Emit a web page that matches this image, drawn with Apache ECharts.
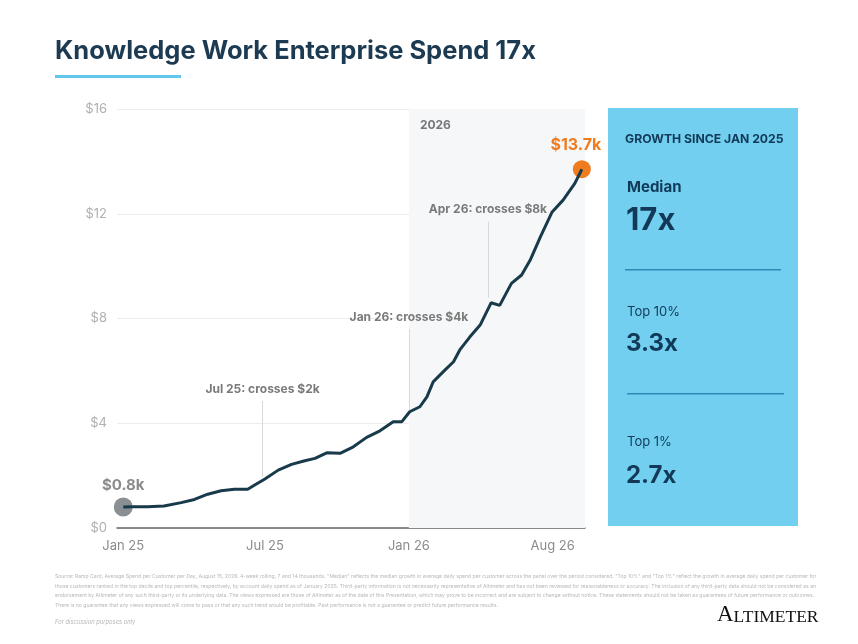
<!DOCTYPE html>
<html>
<head>
<meta charset="utf-8">
<script src="https://cdn.jsdelivr.net/npm/echarts@6/dist/echarts.min.js"></script>
<style>
  html, body { margin: 0; padding: 0; background: #fff; }
  #main { width: 858px; height: 644px; }
</style>
</head>
<body>
<div id="main"></div>
<script>
// median enterprise spend, $k
var dates = ['2025-01-01','2025-01-13','2025-02-01','2025-02-22','2025-03-16','2025-04-02','2025-04-19',
  '2025-05-06','2025-05-23','2025-06-09','2025-06-18','2025-07-01','2025-07-18','2025-08-04','2025-08-21',
  '2025-09-03','2025-09-18','2025-10-05','2025-10-22','2025-11-08','2025-11-25','2025-12-12','2025-12-23',
  '2026-01-02','2026-01-15','2026-01-24','2026-02-01','2026-02-14','2026-02-27','2026-03-07','2026-03-20',
  '2026-04-02','2026-04-16','2026-04-27','2026-05-12','2026-05-25','2026-06-05','2026-06-18','2026-07-03',
  '2026-07-17','2026-08-01','2026-08-10'];
var spend = [0.8,0.81,0.81,0.84,0.97,1.09,1.29,
  1.42,1.48,1.48,1.64,1.87,2.21,2.43,2.57,
  2.66,2.87,2.85,3.10,3.46,3.71,4.06,4.06,
  4.44,4.63,5.01,5.58,5.97,6.35,6.8,7.3,
  7.75,8.6,8.5,9.34,9.66,10.23,11.12,12.07,
  12.52,13.16,13.7];

var tickDates = ['2025-01-01','2025-07-01','2026-01-01','2026-08-01'];
var tickLabels = ['Jan 25','Jul 25','Jan 26','Aug 26'];

var annDates = ['2025-06-28','2026-01-01','2026-04-12'];
var annLow = [1.96,4.5,8.8];
var annHigh = [4.85,7.6,11.7];
var annText = ['Jul 25: crosses $2k','Jan 26: crosses $4k','Apr 26: crosses $8k'];

var panelLabels = ['Median','Top 10%','Top 1%'];
var panelValues = ['17x','3.3x','2.7x'];

var t0 = Date.parse('2025-01-01');
function dayOf(d){ return Math.round((Date.parse(d) - t0) / 864e5); }

var points = dates.map(function(d, i){ return [dayOf(d), spend[i]]; });
var last = points[points.length - 1];

var annLines = annDates.map(function(d, i){
  return [
    {coord: [dayOf(d), annLow[i]], label: {formatter: annText[i]}},
    {coord: [dayOf(d), annHigh[i]]}
  ];
});

var navy = '#123a58';
var font = 'Inter, "Open Sans", sans-serif';

var graphics = [
  {type:'text', left:55, top:38, style:{text:'Knowledge Work Enterprise Spend 17x', fill:'#1c3b52',
    font:'bold 25.5px ' + font}},
  {type:'rect', shape:{x:55, y:75, width:126, height:3}, style:{fill:'#62c7ec'}},
  {type:'rect', shape:{x:608, y:108, width:190, height:418}, style:{fill:'#72cff0'}},
  {type:'text', left:625, top:133, style:{text:'GROWTH SINCE JAN 2025', fill:navy, font:'bold 12.2px ' + font}},
  {type:'rect', shape:{x:625, y:269, width:156, height:1.5}, style:{fill:'#2f8ab8'}},
  {type:'rect', shape:{x:627, y:393, width:157, height:1.5}, style:{fill:'#2f8ab8'}},
  {type:'text', left:55, top:572, style:{
    text:'Source: Ramp Card, Average Spend per Customer per Day, August 15, 2026. 4-week rolling, 7 and 14 thousands. "Median" reflects the median growth in average daily spend per customer across the panel over the period considered. "Top 10%" and "Top 1%" reflect the growth in average daily spend per customer for those customers ranked in the top decile and top percentile, respectively, by account daily spend as of January 2025. Third-party information is not necessarily representative of Altimeter and has not been reviewed for reasonableness or accuracy. The inclusion of any third-party data should not be considered as an endorsement by Altimeter of any such third-party or its underlying data. The views expressed are those of Altimeter as of the date of this Presentation, which may prove to be incorrect and are subject to change without notice. These statements should not be taken as guarantees of future performance or outcomes. There is no guarantee that any views expressed will come to pass or that any such trend would be profitable. Past performance is not a guarantee or predict future performance results.',
    width:775, overflow:'break', fill:'#b8b8b8', font:'5.1px ' + font, lineHeight:9.5}},
  {type:'text', left:55, top:619, style:{text:'For discussion purposes only', fill:'#b8b8b8', font:'italic 5.8px ' + font}},
  {type:'text', left:717, top:603, style:{
    text:'{a|A}{b|LTIMETER}', fill:'#111',
    rich:{a:{fontSize:23, fontFamily:'"Liberation Serif", serif', fill:'#111'},
          b:{fontSize:17.5, fontFamily:'"Liberation Serif", serif', fill:'#111', verticalAlign:'bottom'}}}}
];
var py = [189, 315, 445];
var vy = [222, 346, 478];
panelLabels.forEach(function(l, i){
  graphics.push({type:'text', left:627, top:py[i] - 9, style:{text:l, fill:navy,
    font:(i === 0 ? 'bold 15px ' : '13px ') + font}});
  graphics.push({type:'text', left:626, top:vy[i] - (i === 0 ? 17 : 14), style:{text:panelValues[i], fill:navy,
    font:(i === 0 ? 'bold 31px ' : 'bold 24px ') + font}});
});

var chart = echarts.init(document.getElementById('main'));
chart.setOption({
  backgroundColor: '#fff',
  animation: false,
  grid: {left:117, right:273, top:109, bottom:116},
  xAxis: {
    type: 'value', min: -8, max: 590,
    splitLine: {show: false},
    axisTick: {show: false},
    axisLine: {lineStyle: {color: '#666', width: 1.5}},
    axisLabel: {
      customValues: tickDates.map(dayOf),
      formatter: function(v){ return tickLabels[tickDates.map(dayOf).indexOf(v)] || ''; },
      color: '#8c8c8c', fontSize: 13, fontFamily: font, margin: 12,
      alignMaxLabel: 'right'
    }
  },
  yAxis: {
    type: 'value', min: 0, max: 16, interval: 4,
    axisLine: {show: false}, axisTick: {show: false},
    splitLine: {lineStyle: {color: '#ececec', width: 1}},
    axisLabel: {formatter: function(v){ return '$' + v; }, color: '#b0b0b0', fontSize: 13,
      fontFamily: font, margin: 10}
  },
  series: [{
    type: 'line',
    data: points,
    showSymbol: false,
    lineStyle: {color: '#183a4a', width: 3},
    z: 5,
    markArea: {
      silent: true,
      itemStyle: {color: '#f5f7f9'},
      label: {show: true, position: 'insideTopLeft', offset: [6, 5], color: '#777',
        fontWeight: 'bold', fontSize: 12, fontFamily: font},
      data: [[{name: '2026', xAxis: dayOf('2026-01-01')}, {xAxis: 590}]]
    },
    markLine: {
      silent: true,
      symbol: ['none', 'none'],
      lineStyle: {color: '#d9d9d9', width: 1, type: 'solid'},
      label: {position: 'end', distance: 6, color: '#7a7a7a', fontWeight: 'bold', fontSize: 12, fontFamily: font},
      data: annLines
    },
    markPoint: {
      silent: true,
      data: [
        {coord: points[0], symbol: 'circle', symbolSize: 19, itemStyle: {color: '#8a8f93'},
          label: {show: true, position: 'top', distance: 5, formatter: '$' + spend[0] + 'k',
            color: '#8a8a8a', fontWeight: 'bold', fontSize: 15, fontFamily: font}},
        {coord: last, symbol: 'circle', symbolSize: 18, itemStyle: {color: '#f07c1f'},
          label: {show: true, position: 'top', distance: 7, offset: [-6, 0], formatter: '$' + last[1] + 'k',
            color: '#f07c1f', fontWeight: 'bold', fontSize: 16, fontFamily: font}}
      ]
    }
  }],
  graphic: graphics
});
</script>
</body>
</html>
